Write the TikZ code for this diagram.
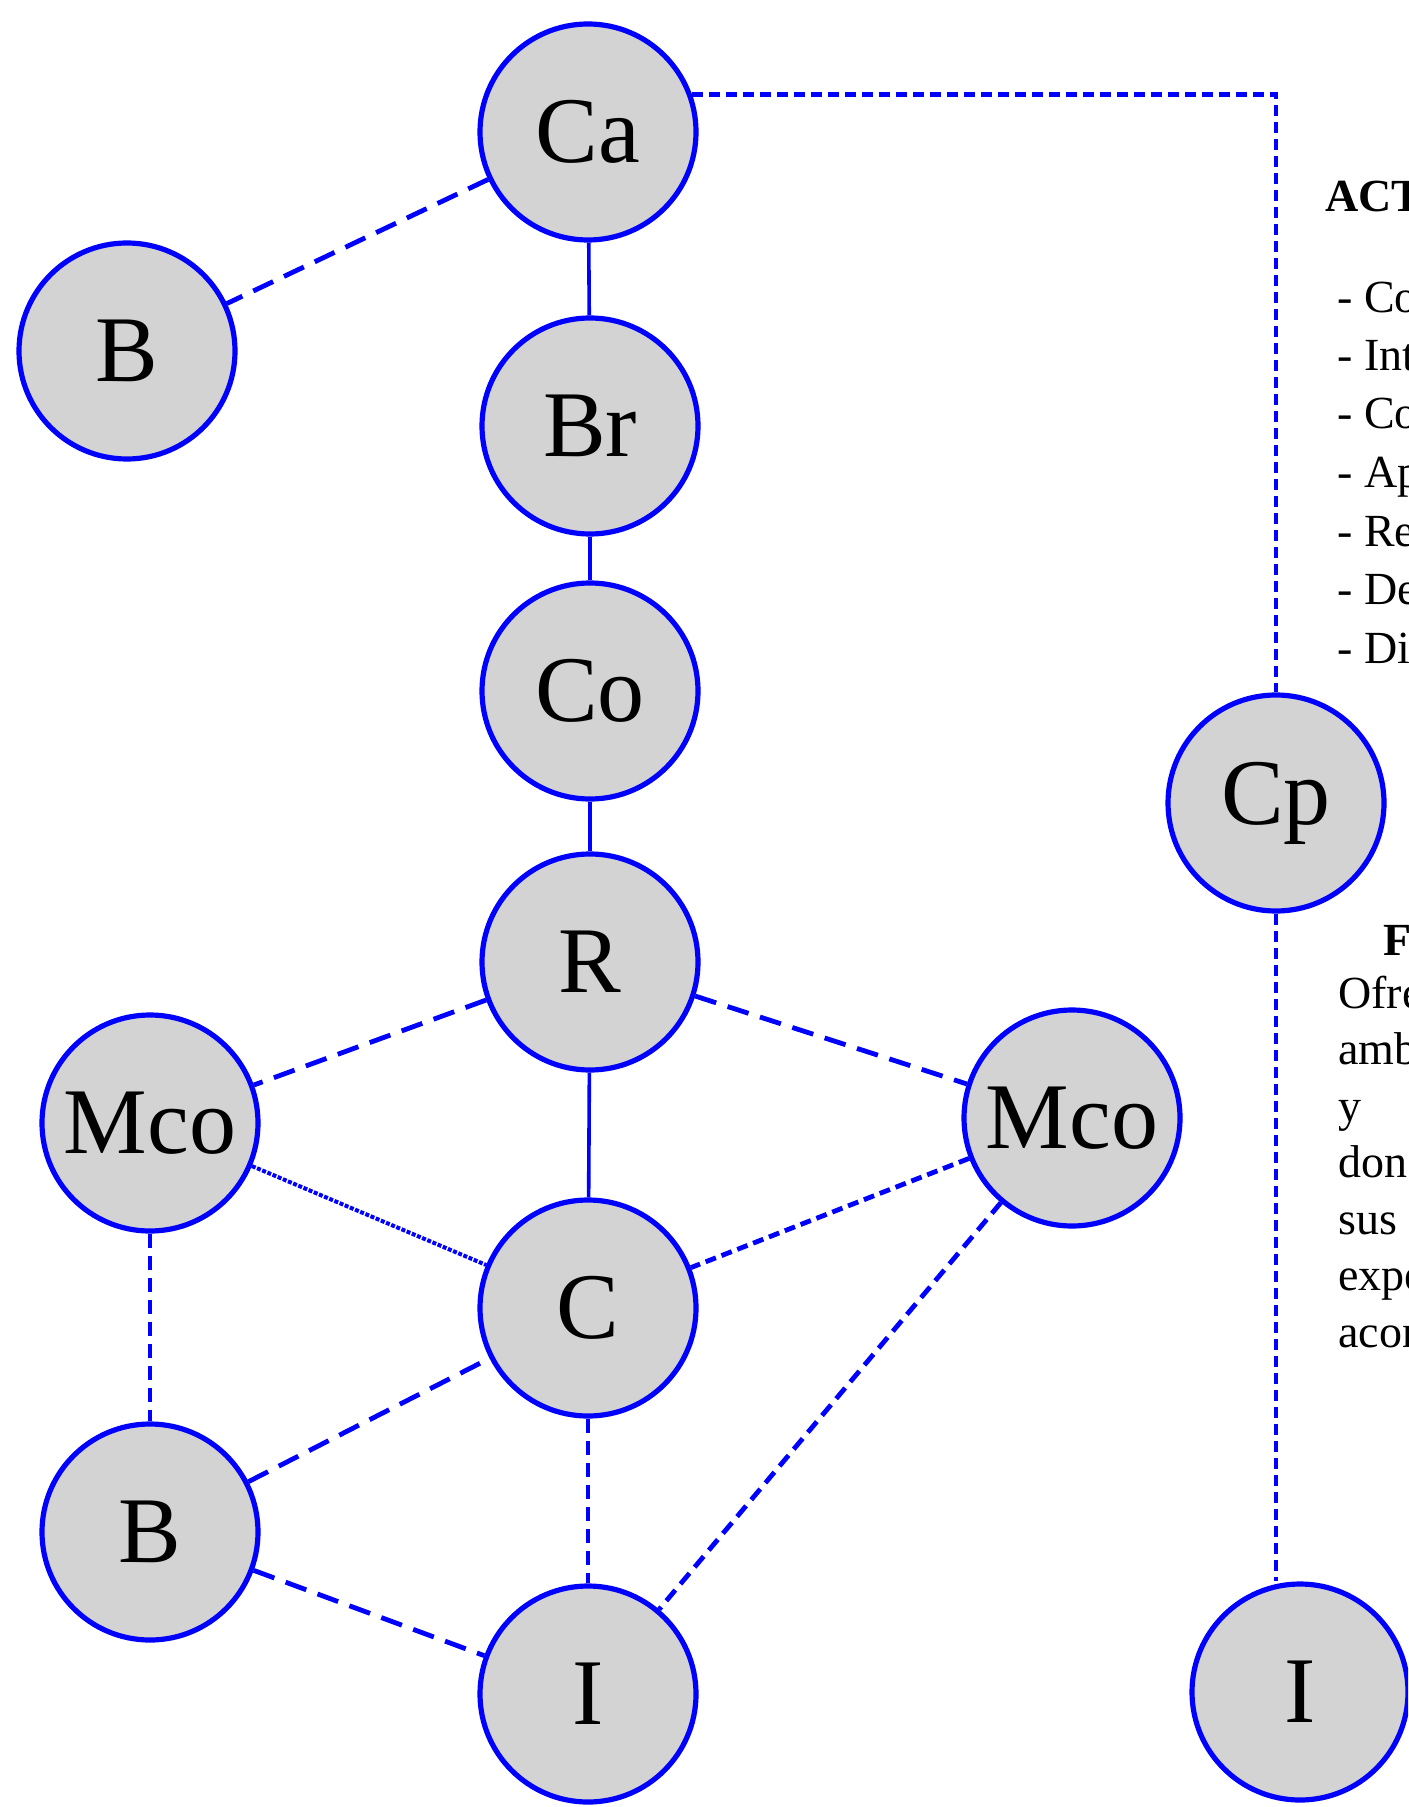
\documentclass[tikz,border=0pt]{standalone}
\usepackage{fontspec}
\setmainfont{Liberation Serif}
\usetikzlibrary{calc}
\definecolor{nodegray}{RGB}{211,211,211}
\definecolor{linkblue}{RGB}{0,0,255}
\tikzset{
  actor/.style={circle, draw=linkblue, line width=2.6pt, fill=nodegray, minimum size=108pt, inner sep=0pt, font=\fontsize{47}{50}\selectfont},
  strong/.style={linkblue, line width=1.8pt},
  weak/.style={linkblue, line width=2.4pt, dash pattern=on 11pt off 6pt},
  mid/.style={linkblue, line width=2.4pt, dash pattern=on 7pt off 4pt},
  fine/.style={linkblue, line width=2.4pt, dash pattern=on 5.5pt off 3pt},
  beaded/.style={linkblue, line width=2pt, dash pattern=on 2pt off 0.8pt},
  sidetext/.style={anchor=base west, inner sep=0pt, font=\fontsize{23}{27}\selectfont}
}

\begin{document}
\begin{tikzpicture}[x=0.5pt,y=-0.5pt]
\useasboundingbox (0,0) rectangle (1408,1807);
\clip (0,0) rectangle (1408,1807);
% central column
\node[actor] (Ca) at (588,132) {Ca};
\node[actor] (Br) at (590,426) {Br};
\node[actor] (Co) at (590,691) {Co};
\node[actor] (R) at (590,962) {R};
\node[actor] (C) at (588,1308) {C};
\node[actor] (I) at (588,1694) {I};
% left and right
\node[actor] (B) at (127,351) {B};
\node[actor] (McoL) at (150,1123) {Mco};
\node[actor] (McoR) at (1072,1118) {Mco};
\node[actor] (Bb) at (150,1532) {B};
\node[actor] (Cp) at (1276,803) {Cp};
\node[actor] (Ir) at (1300,1692) {I};
%%%%%%%%%%%%
\draw[strong] (Ca) -- (Br);
\draw[strong] (Br) -- (Co);
\draw[strong] (Co) -- (R);
\draw[strong] (R) -- (C);
\draw[weak] (Ca) -- (B);
\draw[weak] (R) -- (McoL);
\draw[weak] (R) -- (McoR);
\draw[beaded] (McoL) -- (C);
\draw[fine] (McoR) -- (C);
\draw[mid] (McoL) -- (Bb);
\draw[weak] (Bb) -- (C);
\draw[mid] (C) -- (I);
\draw[weak] (Bb) -- (I);
\draw[mid] (McoR) -- (I);
\draw[fine] (Ca.20) -- (Ca.20 -| Cp.north) -- (Cp.north);
\draw[fine] (Cp.south) -- (Cp.south |- Ir.north);
%%%%%%%%%%%%
\node[sidetext, font=\fontsize{23}{27}\selectfont\bfseries] (act) at (1325,212) {ACT};
\node[sidetext] (l1) at (1337,313) {- Co};
\node[sidetext] (l2) at (1337,371) {- Int};
\node[sidetext] (l3) at (1337,429) {- Co};
\node[sidetext] (l4) at (1337,488) {- Ap};
\node[sidetext] (l5) at (1337,546) {- Re};
\node[sidetext] (l6) at (1337,604) {- De};
\node[sidetext] (l7) at (1337,663) {- Di};
%%%%%%%%%%%%
\node[sidetext, font=\fontsize{23}{27}\selectfont\bfseries] (fu) at (1383,955) {F};
\node[sidetext] (p1) at (1338,1008) {Ofre};
\node[sidetext] (p2) at (1338,1064) {amb};
\node[sidetext] (p3) at (1338,1121) {y};
\node[sidetext] (p4) at (1338,1177) {don};
\node[sidetext] (p5) at (1338,1234) {sus};
\node[sidetext] (p6) at (1338,1290) {expe};
\node[sidetext] (p7) at (1338,1347) {acon};
\end{tikzpicture}
\end{document}
